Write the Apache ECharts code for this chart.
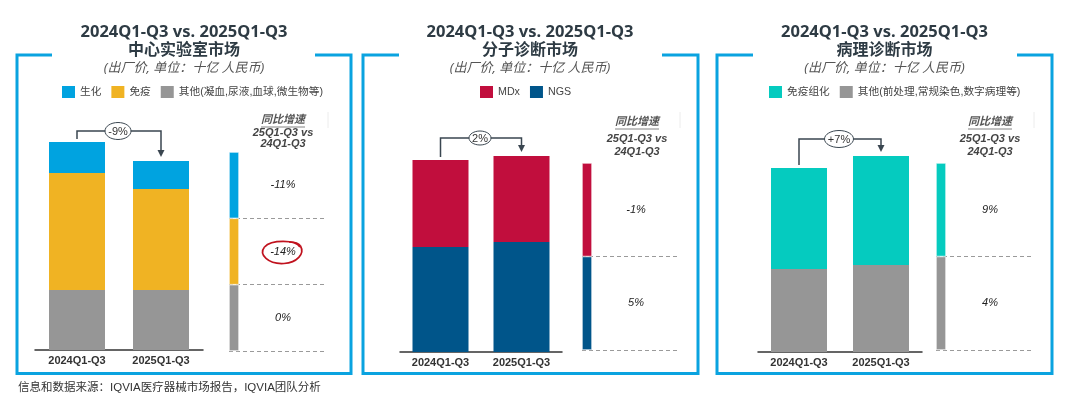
<!DOCTYPE html>
<html><head><meta charset="utf-8">
<script src="https://cdn.jsdelivr.net/npm/echarts@6/dist/echarts.min.js"></script>
<style>html,body{margin:0;padding:0;background:#fff}#c{width:1080px;height:407px}</style>
</head><body><div id="c"></div>
<script>
// ---------- data (十亿人民币) ----------
const categories = ['2024Q1-Q3', '2025Q1-Q3'];
const labBiochem = [3.1, 2.8];    // 生化
const labImmuno  = [11.7, 10.1];  // 免疫
const labOther   = [6.0, 6.0];    // 其他
const molMDx     = [8.7, 8.6];
const molNGS     = [10.5, 11.0];
const patIHC     = [10.1, 10.9];  // 免疫组化
const patOther   = [8.3, 8.7];    // 其他
const totalGrowth = ['-9%', '2%', '+7%'];
const labGrowth = ['-11%', '-14%', '0%'];  // 生化, 免疫, 其他
const molGrowth = ['-1%', '5%'];           // MDx, NGS
const patGrowth = ['9%', '4%'];            // 免疫组化, 其他
const panelTitles = ['中心实验室市场', '分子诊断市场', '病理诊断市场'];
const titleLine = '2024Q1-Q3 vs. 2025Q1-Q3';
const subTitle = '(出厂价, 单位：十亿 人民币)';
const indHeader = ['同比增速', '25Q1-Q3 vs', '24Q1-Q3'];
const footer = '信息和数据来源：IQVIA医疗器械市场报告，IQVIA团队分析';

const N_LAB_OTHER = '其他(凝血,尿液,血球,微生物等)';
const N_PAT_OTHER = '其他(前处理,常规染色,数字病理等)';

// ---------- styles ----------
const C = {blue:'#00A3E0', yellow:'#F0B323', gray:'#969696', red:'#C10E3D', navy:'#00558A', teal:'#05CBBF', frame:'#0AA3E0', dark:'#2E3B44'};
const LAT = "'Liberation Sans','Noto Sans CJK SC',sans-serif";
const CJK = "'Noto Sans','Noto Sans CJK SC',sans-serif";

const grids = [
  {left:35,  top:130, width:168, height:220},  // 0 P1 main
  {left:229, top:152, width:10,  height:199},  // 1 P1 ind bar
  {left:229, top:152, width:96,  height:199},  // 2 P1 ind lines
  {left:400, top:132, width:162, height:220},  // 3 P2 main
  {left:582, top:163, width:10,  height:187},  // 4
  {left:582, top:163, width:96,  height:187},  // 5
  {left:758, top:132, width:164, height:220},  // 6 P3 main
  {left:936, top:163, width:10,  height:187},  // 7
  {left:936, top:163, width:96,  height:187}   // 8
];
const segCount = [3, 2, 2];
const xAxes = [], yAxes = [];
for (let p = 0; p < 3; p++) {
  const g = p * 3;
  xAxes.push({gridIndex:g, type:'category', data:categories, axisTick:{show:false},
    axisLine:{lineStyle:{color:'#333', width:1.5}},
    axisLabel:{color:'#333', fontWeight:'bold', fontSize:11, fontFamily:LAT, margin:5}});
  yAxes.push({gridIndex:g, type:'value', min:0, max:22, show:false});
  xAxes.push({gridIndex:g+1, type:'category', data:[''], show:false});
  yAxes.push({gridIndex:g+1, type:'value', min:0, max:segCount[p], show:false});
  xAxes.push({gridIndex:g+2, type:'value', min:0, max:1, show:false});
  yAxes.push({gridIndex:g+2, type:'value', min:0, max:segCount[p], interval:1,
    axisLine:{show:false}, axisTick:{show:false}, axisLabel:{show:false},
    splitLine:{show:true, showMaxLine:false, lineStyle:{color:'#9a9a9a', type:[4,3], width:1}}});
}

function mainBar(name, data, color, axis, stack) {
  return {name, type:'bar', stack, data, xAxisIndex:axis, yAxisIndex:axis, barWidth:56,
    itemStyle:{color}, emphasis:{disabled:true}};
}
function indBar(name, label, color, axis, stack) {
  return {name, type:'bar', stack, data:[1], xAxisIndex:axis, yAxisIndex:axis, barWidth:'100%',
    itemStyle:{color, borderColor:'#fff', borderWidth:0.6}, emphasis:{disabled:true},
    label:{show:true, position:[54,'50%'], align:'center', verticalAlign:'middle',
      formatter:() => label, color:'#222', fontStyle:'italic', fontSize:11, fontFamily:LAT}};
}

const series = [
  mainBar(N_LAB_OTHER, labOther, C.gray, 0, 'p1'),
  mainBar('免疫', labImmuno, C.yellow, 0, 'p1'),
  mainBar('生化', labBiochem, C.blue, 0, 'p1'),
  indBar('i1o', labGrowth[2], C.gray, 1, 'i1'),
  indBar('i1i', labGrowth[1], C.yellow, 1, 'i1'),
  indBar('i1b', labGrowth[0], C.blue, 1, 'i1'),
  mainBar('NGS', molNGS, C.navy, 3, 'p2'),
  mainBar('MDx', molMDx, C.red, 3, 'p2'),
  indBar('i2n', molGrowth[1], C.navy, 4, 'i2'),
  indBar('i2m', molGrowth[0], C.red, 4, 'i2'),
  mainBar(N_PAT_OTHER, patOther, C.gray, 6, 'p3'),
  mainBar('免疫组化', patIHC, C.teal, 6, 'p3'),
  indBar('i3o', patGrowth[1], C.gray, 7, 'i3'),
  indBar('i3t', patGrowth[0], C.teal, 7, 'i3')
];

const legendBase = {icon:'rect', itemWidth:13, itemHeight:12, itemGap:10, top:86, padding:0, selectedMode:false,
  textStyle:{fontSize:10.7, color:'#444', fontFamily:LAT}};
const legends = [
  Object.assign({}, legendBase, {left:62, data:['生化', '免疫', N_LAB_OTHER]}),
  Object.assign({}, legendBase, {left:480, data:['MDx', 'NGS']}),
  Object.assign({}, legendBase, {left:769, data:['免疫组化', N_PAT_OTHER]})
];

const chart = echarts.init(document.getElementById('c'), null, {renderer:'canvas'});
chart.setOption({animation:false, grid:grids, xAxis:xAxes, yAxis:yAxes, legend:legends, series});

// ---------- annotations ----------
const G = [];
const frames = [[17, 52, 315, 351], [363, 399, 662, 698], [717, 753, 1017, 1052]];
const centers = [184, 530, 884.5];
const indCenter = [283, 637, 990];
const indHeadY = [[120, 133, 144], [122, 139, 152], [122, 139, 152]];
const levels = [131, 138, 139];
const ell = [[13, 8.5], [11, 7], [14.5, 8.5]];
const totals = [
  categories.map((c, i) => labBiochem[i] + labImmuno[i] + labOther[i]),
  categories.map((c, i) => molMDx[i] + molNGS[i]),
  categories.map((c, i) => patIHC[i] + patOther[i])
];
for (let p = 0; p < 3; p++) {
  const f = frames[p];
  G.push({type:'polyline', silent:true, shape:{points:[[f[1],55],[f[0],55],[f[0],373.5],[f[3],373.5],[f[3],55],[f[2],55]]},
    style:{stroke:C.frame, lineWidth:3, fill:null}});
  G.push({type:'text', style:{text:titleLine, x:centers[p], y:32, align:'center', verticalAlign:'middle',
    fontSize:16.5, fontWeight:'bold', fontFamily:CJK, fill:C.dark}});
  G.push({type:'text', style:{text:panelTitles[p], x:centers[p], y:50, align:'center', verticalAlign:'middle',
    fontSize:16, fontWeight:'bold', fontFamily:CJK, fill:C.dark}});
  G.push({type:'text', style:{text:subTitle, x:centers[p], y:68, align:'center', verticalAlign:'middle',
    fontSize:13, fontStyle:'italic', fontFamily:CJK, fill:'#555'}});
  // growth header
  const hx = indCenter[p], hy = indHeadY[p];
  G.push({type:'text', style:{text:indHeader[0], x:hx, y:hy[0], align:'center', verticalAlign:'middle',
    fontSize:11, fontWeight:'bold', fontStyle:'italic', fontFamily:CJK, fill:'#555'}});
  G.push({type:'line', shape:{x1:hx-22, y1:hy[0]+7, x2:hx+22, y2:hy[0]+7}, style:{stroke:'#666', lineWidth:0.8}});
  G.push({type:'text', style:{text:indHeader[1], x:hx, y:hy[1], align:'center', verticalAlign:'middle',
    fontSize:11, fontWeight:'bold', fontStyle:'italic', fontFamily:LAT, fill:'#444'}});
  G.push({type:'text', style:{text:indHeader[2], x:hx, y:hy[2], align:'center', verticalAlign:'middle',
    fontSize:11, fontWeight:'bold', fontStyle:'italic', fontFamily:LAT, fill:'#444'}});
  // bracket arrow
  const gi = p * 3;
  const a = chart.convertToPixel({gridIndex:gi}, [0, totals[p][0]]);
  const b = chart.convertToPixel({gridIndex:gi}, [1, totals[p][1]]);
  const L = levels[p];
  const tip = b[1] - 4;
  G.push({type:'polyline', shape:{points:[[a[0], a[1]-3], [a[0], L], [b[0], L], [b[0], tip-6]]},
    style:{stroke:'#3A4650', lineWidth:1.5, fill:null}});
  G.push({type:'polygon', shape:{points:[[b[0]-3.5, tip-7], [b[0]+3.5, tip-7], [b[0], tip]]}, style:{fill:'#3A4650'}});
  const mx = (a[0] + b[0]) / 2 - 1;
  G.push({type:'ellipse', shape:{cx:mx, cy:L, rx:ell[p][0], ry:ell[p][1]}, style:{fill:'#fff', stroke:'#3A4650', lineWidth:1}});
  G.push({type:'text', style:{text:totalGrowth[p], x:mx, y:L+0.5, align:'center', verticalAlign:'middle',
    fontSize:11, fontFamily:LAT, fill:'#333'}});
  // faint header divider
  const vx = [328, 680, 1034][p];
  G.push({type:'line', shape:{x1:vx, y1:112, x2:vx, y2:128}, style:{stroke:'#ececec', lineWidth:1}});
}
// hand-drawn red circle around -14%
const redStyle = {stroke:'#C0121E', lineWidth:1.7, fill:null};
G.push({type:'bezierCurve', shape:{x1:300, y1:247, cpx1:296, cpy1:239.5, cpx2:271, cpy2:239.5, x2:264.5, y2:247}, style:redStyle});
G.push({type:'bezierCurve', shape:{x1:264.5, y1:247, cpx1:258.5, cpy1:254.5, cpx2:268, cpy2:264.5, x2:284, y2:263.5}, style:redStyle});
G.push({type:'bezierCurve', shape:{x1:284, y1:263.5, cpx1:297, cpy1:262.5, cpx2:305, cpy2:254, x2:300.5, y2:246}, style:redStyle});
G.push({type:'bezierCurve', shape:{x1:300.5, y1:246, cpx1:299, cpy1:243.5, cpx2:294, cpy2:242, x2:289, y2:242}, style:redStyle});
G.push({type:'text', style:{text:footer, x:18, y:388, verticalAlign:'middle', fontSize:11.5, fontFamily:LAT, fill:'#333'}});
chart.setOption({graphic:G});
</script></body></html>
